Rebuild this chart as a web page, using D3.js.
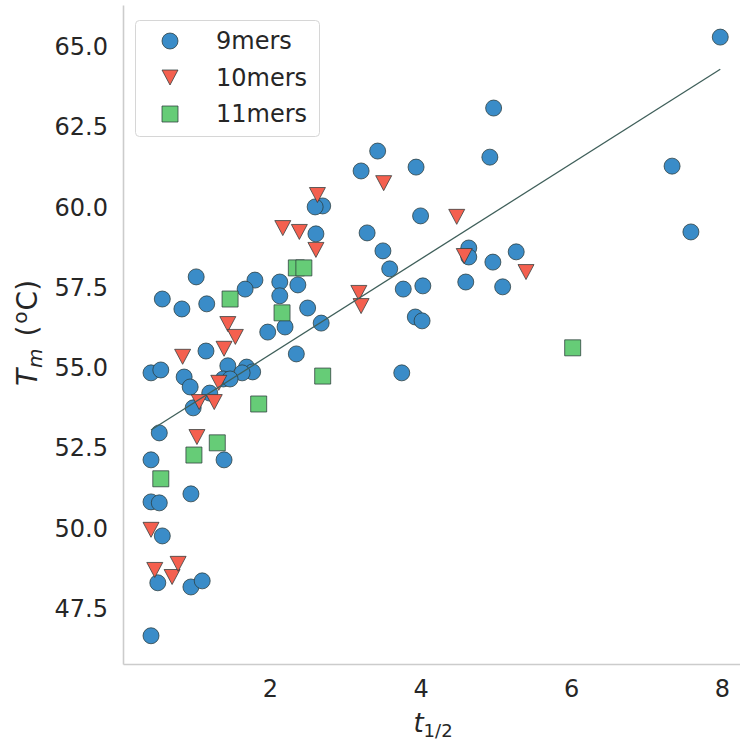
<!DOCTYPE html>
<html>
<head>
<meta charset="utf-8">
<script src="https://cdn.jsdelivr.net/npm/d3@7"></script>
<style>
  body { margin: 0; background: #fff; }
  text { font-family: "DejaVu Sans", sans-serif; fill: #262626; }
</style>
</head>
<body>
<div id="svgScatter"></div>
<script>
 // D3 scatter - Tm against t1/2, with fitted line

 // Data variables
    var names = ['9mers', '10mers', '11mers'];

    var x9 = [7.98, 4.97, 3.43, 3.21, 3.94, 4.92, 7.34, 2.70, 2.60, 2.61, 4.00, 3.29, 7.59,
              3.50, 3.59, 4.64, 4.64, 4.96, 5.27, 2.37, 2.13, 3.77, 4.03, 4.60, 5.09, 2.13,
              2.50, 3.93, 4.02, 2.20, 2.68, 2.35, 3.75, 1.02, 1.80, 1.67, 0.57, 0.83, 1.16,
              1.97, 1.15, 0.42, 0.55, 0.86, 1.44, 1.69, 1.77, 1.63, 1.38, 1.47, 0.94, 1.20,
              0.98, 0.53, 1.39, 0.42, 0.95, 0.42, 0.53, 0.57, 0.51, 0.95, 1.10, 0.42];
    var y9 = [65.31, 63.10, 61.76, 61.14, 61.26, 61.57, 61.29, 60.05, 60.02, 59.18, 59.74, 59.21, 59.24,
              58.65, 58.09, 58.74, 58.46, 58.30, 58.62, 57.59, 57.68, 57.46, 57.56, 57.68, 57.53, 57.25,
              56.87, 56.59, 56.47, 56.28, 56.40, 55.44, 54.85, 57.84, 57.74, 57.46, 57.15, 56.84, 57.00,
              56.12, 55.53, 54.85, 54.94, 54.72, 55.07, 55.03, 54.88, 54.85, 54.66, 54.66, 54.41, 54.22,
              53.76, 52.98, 52.14, 52.14, 51.08, 50.83, 50.80, 49.77, 48.31, 48.18, 48.37, 46.66];

    var x10 = [2.63, 3.51, 4.48, 2.17, 2.39, 2.61, 4.58, 5.40, 3.18, 3.21, 1.44,
               1.54, 1.39, 0.84, 1.32, 1.06, 1.26, 1.03, 0.42, 0.47, 0.70, 0.78];
    var y10 = [60.39, 60.76, 59.71, 59.36, 59.24, 58.68, 58.49, 57.99, 57.34, 56.93, 56.37,
               55.97, 55.60, 55.35, 54.54, 53.94, 53.94, 52.85, 49.96, 48.71, 48.49, 48.90];

    var x11 = [2.35, 2.45, 1.47, 2.16, 2.70, 1.85, 6.02, 1.30, 0.99, 0.55];
    var y11 = [58.12, 58.12, 57.15, 56.72, 54.75, 53.88, 55.63, 52.67, 52.29, 51.55];

    var fitX = [0.42, 7.98];
    var fitY = [53.07, 64.31];

    var xTicks = [2, 4, 6, 8];
    var yTicks = [47.5, 50.0, 52.5, 55.0, 57.5, 60.0, 62.5, 65.0];

    //
    // chart
    //

    // variables
    var w = 740;
    var h = 747;
    var colors = ['#3a8cc8', '#f4604f', '#66cc77'];
    var edge = '#2b3b3b';

    var xScale = d3.scaleLinear().domain([0.048, 8.242]).range([123, 740]);
    var yScale = d3.scaleLinear().domain([45.78, 66.31]).range([664, 5]);

    var svg = d3.select("div#svgScatter")
        .append("svg")
        .attr('width', w)
        .attr('height', h);

    // axes
    svg.append('g')
        .attr('transform', 'translate(123,0)')
        .call(d3.axisLeft(yScale).tickValues(yTicks).tickFormat(d3.format('.1f'))
            .tickSize(0).tickPadding(15));

    svg.append('g')
        .attr('transform', 'translate(0,664)')
        .call(d3.axisBottom(xScale).tickValues(xTicks).tickFormat(d3.format('d'))
            .tickSize(0).tickPadding(16));

    svg.selectAll('.domain').attr('stroke', '#cccccc').attr('stroke-width', 1.6);
    svg.selectAll('.tick text')
        .style('font-family', '"DejaVu Sans", sans-serif')
        .style('font-size', '24px')
        .attr('fill', '#262626');

    // markers
    function marker(type) {
        if (type === 0) return d3.symbol().type(d3.symbolCircle).size(Math.PI * 64)();
        if (type === 1) return 'M-8,-7.5L8,-7.5L0,7.5Z';
        return 'M-8,-8H8V8H-8Z';
    }

    var series = [
        {name: names[0], x: x9, y: y9},
        {name: names[1], x: x10, y: y10},
        {name: names[2], x: x11, y: y11}
    ];

    series.forEach(function(s, k) {
        svg.append('g')
            .selectAll('path')
            .data(s.x.map(function(d, i) { return [d, s.y[i]]; }))
            .enter()
            .append('path')
            .attr('d', marker(k))
            .attr('transform', function(d) { return 'translate(' + xScale(d[0]) + ',' + yScale(d[1]) + ')'; })
            .attr('fill', colors[k])
            .attr('stroke', edge)
            .attr('stroke-opacity', 0.75)
            .attr('stroke-width', 1);
    });

    // fitted line
    svg.append('path')
        .datum(fitX.map(function(d, i) { return [d, fitY[i]]; }))
        .attr('d', d3.line().x(function(d) { return xScale(d[0]); }).y(function(d) { return yScale(d[1]); }))
        .attr('fill', 'none')
        .attr('stroke', '#3f5f5a')
        .attr('stroke-width', 1.3);

    // legend
    var legend = svg.append('g');
    legend.append('rect')
        .attr('x', 135.5).attr('y', 20.5)
        .attr('width', 184).attr('height', 116)
        .attr('rx', 4)
        .attr('fill', '#fff')
        .attr('fill-opacity', 0.85)
        .attr('stroke', '#d6d6d6');

    var items = legend.selectAll('g.item')
        .data(names)
        .enter()
        .append('g')
        .attr('transform', function(d, i) { return 'translate(170,' + (41 + i * 36.5) + ')'; });

    items.append('path')
        .attr('d', function(d, i) { return marker(i); })
        .attr('fill', function(d, i) { return colors[i]; })
        .attr('stroke', edge)
        .attr('stroke-opacity', 0.75);

    items.append('text')
        .attr('x', 46)
        .attr('dy', '0.35em')
        .style('font-size', '24px')
        .text(function(d) { return d; });

    // axis labels
    var yl = svg.append('text')
        .attr('transform', 'translate(37,333) rotate(-90)')
        .attr('text-anchor', 'middle')
        .style('font-size', '28px');
    yl.append('tspan').style('font-style', 'italic').text('T');
    yl.append('tspan').style('font-style', 'italic').style('font-size', '20px').attr('dx', 1).attr('dy', 5).text('m');
    yl.append('tspan').attr('dx', 3).attr('dy', -5).text(' (');
    yl.append('tspan').style('font-size', '20px').attr('dx', 2).attr('dy', -10).text('o');
    yl.append('tspan').attr('dx', 1).attr('dy', 10).text('C)');

    var xl = svg.append('text')
        .attr('x', 433)
        .attr('y', 732)
        .attr('text-anchor', 'middle')
        .style('font-size', '26px');
    xl.append('tspan').style('font-style', 'italic').text('t');
    xl.append('tspan').style('font-size', '18px').attr('dy', 5).text('1/2');

    // end of chart
</script>
</body>
</html>
